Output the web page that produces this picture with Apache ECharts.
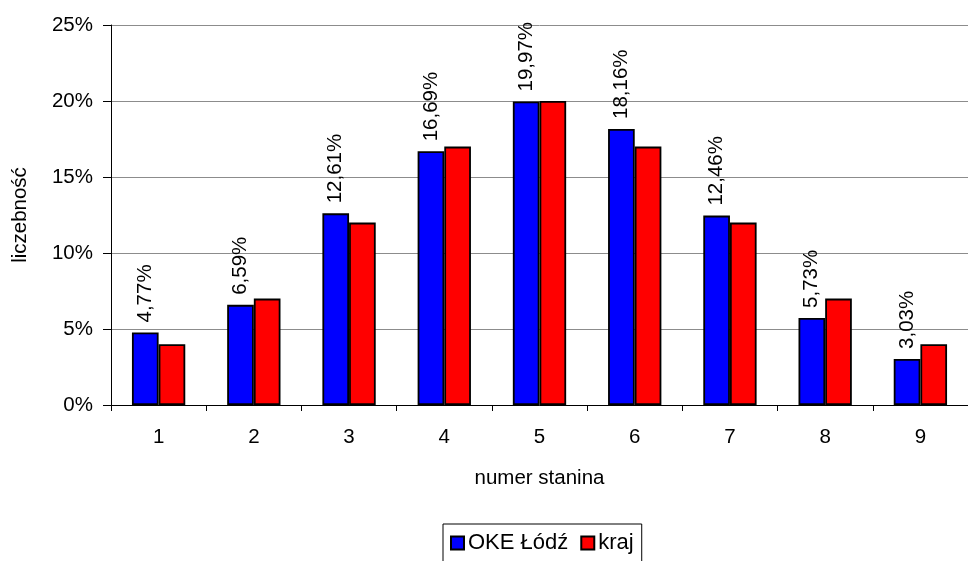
<!DOCTYPE html>
<html><head><meta charset="utf-8">
<script src="https://cdn.jsdelivr.net/npm/echarts@6/dist/echarts.min.js"></script>
<style>html,body{margin:0;padding:0;background:#fff}#c{width:968px;height:561px}</style>
</head><body><div id="c"></div>
<script>
var categories = ['1','2','3','4','5','6','7','8','9'];
var okeLodz = [4.77, 6.59, 12.61, 16.69, 19.97, 18.16, 12.46, 5.73, 3.03];
var kraj = [4, 7, 12, 17, 20, 17, 12, 7, 4];
var seriesNames = ['OKE Łódź', 'kraj'];
var font = 'Liberation Sans, Arial, sans-serif';
var fs = 20.5;
var chart = echarts.init(document.getElementById('c'));
chart.setOption({
  animation: false,
  textStyle: {fontFamily: font},
  grid: {left: 111, top: 25, width: 868, height: 380, containLabel: false},
  legend: {
    data: seriesNames, left: 443, top: 524, orient: 'horizontal',
    itemWidth: 13, itemHeight: 13, itemGap: 12, icon: 'rect',
    borderColor: '#000', borderWidth: 1, padding: [8, 8, 16, 7],
    textStyle: {fontSize: 22, color: '#000', fontFamily: font, padding: [0,0,0,-1]}
  },
  xAxis: {
    type: 'category', data: categories,
    name: 'numer stanina', nameLocation: 'middle', nameGap: 63,
    nameTextStyle: {fontSize: fs, color: '#000', fontFamily: font},
    axisLine: {lineStyle: {color: '#000', width: 1}},
    axisTick: {show: true, length: 6, lineStyle: {color: '#000'}},
    axisLabel: {fontSize: fs, color: '#000', margin: 22, fontFamily: font}
  },
  yAxis: {
    type: 'value', min: 0, max: 25, interval: 5,
    name: 'liczebność', nameLocation: 'middle', nameGap: 80,
    nameTextStyle: {fontSize: fs, color: '#000', fontFamily: font},
    axisLine: {show: true, lineStyle: {color: '#000', width: 1}},
    axisTick: {show: true, length: 8, lineStyle: {color: '#000'}},
    axisLabel: {fontSize: fs, color: '#000', margin: 18, formatter: '{value}%', fontFamily: font},
    splitLine: {lineStyle: {color: '#8c8c8c', width: 1}}
  },
  series: [
    {
      name: seriesNames[0], type: 'bar', data: okeLodz,
      barGap: '0%', barCategoryGap: '44%',
      itemStyle: {color: '#0000ff', borderColor: '#000', borderWidth: 1.8},
      label: {
        show: true, position: 'top', rotate: 90, align: 'left', verticalAlign: 'middle',
        distance: 10, fontSize: fs, color: '#000', fontFamily: font,
        formatter: function (p) { return p.value.toFixed(2).replace('.', ',') + '%'; }
      }
    },
    {
      name: seriesNames[1], type: 'bar', data: kraj,
      itemStyle: {color: '#ff0000', borderColor: '#000', borderWidth: 1.8}
    }
  ]
});
</script></body></html>
